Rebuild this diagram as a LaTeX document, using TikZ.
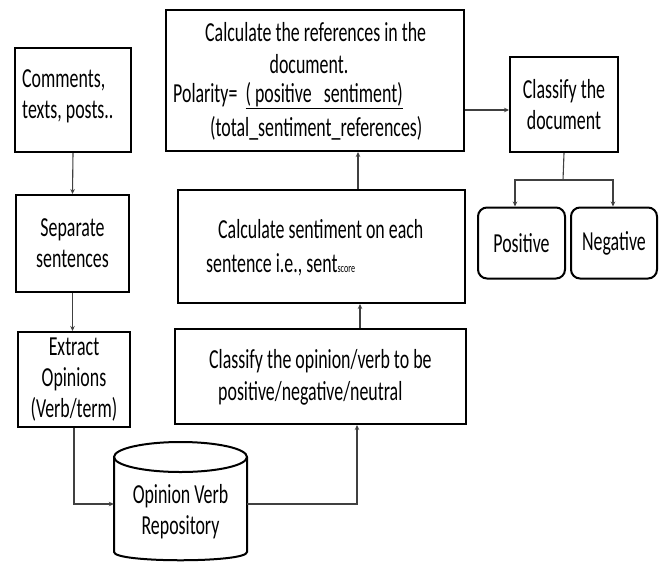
\documentclass[tikz,border=0pt]{standalone}
\usepackage{fontspec}
\setmainfont{Carlito}[FakeStretch=0.65]
\usetikzlibrary{arrows.meta,calc}
\begin{document}
\begin{tikzpicture}[x=1pt,y=-1pt,
  box/.style={draw, line width=2pt, inner sep=0pt, align=center},
  txt/.style={inner sep=0pt, font=\fontsize{27.5}{31}\selectfont},
  arr/.style={draw=black!75, line width=1.1pt, -{Stealth[length=5pt,width=4.5pt]}},
  ln/.style={draw=black!75, line width=1.1pt}]
\useasboundingbox[fill=white] (0,0) rectangle (660,562);
% boxes
\node[box, minimum width=116pt, minimum height=104pt] (comm) at (73,100) {};
\node[txt, align=left, anchor=west] (commt) at (22,96) {Comments,\\texts, posts..};
\node[box, txt, minimum width=113pt, minimum height=97pt] (sep) at (72.5,243.5) {Separate\\sentences};
\node[box, txt, minimum width=112pt, minimum height=95pt] (ext) at (74,379.5) {Extract\\Opinions\\(Verb/term)};
% cylinder
\draw[line width=2pt, fill=white] (114,457) -- (114,552) .. controls (114,563) and (247,563) .. (247,552) -- (247,457);
\draw[line width=2pt] (180.5,457) ellipse [x radius=66.5pt, y radius=15pt];
\node[minimum width=133pt, minimum height=96pt, inner sep=0pt] (repo) at (180.5,504) {};
\node[txt, align=center] (repot) at (180.5,512) {Opinion Verb\\Repository};
% right column
\node[box, minimum width=291pt, minimum height=95pt] (clop) at (320.5,376.5) {};
\node[txt, anchor=west] (clop1) at (209,361) {Classify the opinion/verb to be};
\node[txt, anchor=west] (clop2) at (218,393) {positive/negative/neutral};
\node[box, minimum width=287pt, minimum height=113pt] (csent) at (321.5,246.5) {};
\node[txt, anchor=west] (cs1) at (218,229) {Calculate sentiment on each};
\node[txt, anchor=west] (cs2) at (206,265) {sentence i.e., sent{\fontsize{12.5}{12}\selectfont score}};
\node[box, minimum width=298pt, minimum height=141pt] (cref) at (315,80.5) {};
\node[txt, anchor=west] (cr1) at (205,32) {Calculate the references in the};
\node[txt] (cr2) at (309,64) {document.};
\node[txt, anchor=west] (cr3) at (173,96) {Polarity=~~\underline{( positive~~ sentiment)}};
\node[txt, anchor=west] (cr4) at (210,128) {(total\_sentiment\_references)};
\node[box, txt, minimum width=108pt, minimum height=95pt] (cdoc) at (564,104.5) {Classify the\\document};
\node[box, txt, rounded corners=9pt, minimum width=87pt, minimum height=71pt] (pos) at (521.5,243) {Positive};
\node[box, txt, rounded corners=9pt, minimum width=86pt, minimum height=71pt] (neg) at (614,243) {Negative};
\coordinate (split) at (563,180);
% connectors
\draw[arr] (comm.south) -- (sep.north);
\draw[arr] (sep.south) -- (sep.south |- ext.north);
\draw[arr] (ext.south) |- (repo.west);
\draw[arr] (repo.east) -| ([xshift=36.5pt]clop.south);
\draw[arr] ([xshift=39.5pt]clop.north) -- ([xshift=39.5pt]clop.north |- csent.south);
\draw[arr] ([xshift=36.5pt]csent.north) -- ([xshift=36.5pt]csent.north |- cref.south);
\draw[arr] ([yshift=-29.5pt]cref.east) -- ([yshift=-29.5pt]cref.east -| cdoc.west);
\draw[ln] (cdoc.south) -- (split);
\draw[arr] (split) -| ([xshift=-6.5pt]pos.north);
\draw[arr] (split) -| ([xshift=-1pt]neg.north);
\end{tikzpicture}
\end{document}
